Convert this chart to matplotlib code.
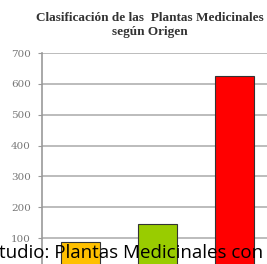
import matplotlib.pyplot as plt

# data
categorias = ['Nativas', 'Introducidas', 'Otras']
valores = [88, 145, 626]
colores = ['#FFC000', '#99CC00', '#FF0000']
ticks_y = [100, 200, 300, 400, 500, 600, 700]

fig = plt.figure(figsize=(2.67, 2.64), dpi=100)
ax = fig.add_axes([0.157, -0.019, 0.865, 0.818])

x = range(len(categorias))
ax.bar(x, valores, width=0.5, color=colores, edgecolor='#333333', linewidth=0.8, zorder=3)

ax.set_ylim(0, 700)
ax.set_xlim(-0.5, 2.5)
ax.set_yticks(ticks_y)
ax.set_yticklabels([str(t) for t in ticks_y], family='DejaVu Serif', fontsize=7.5, color='#777777')
ax.set_xticks([])
ax.yaxis.grid(True, color='#b0b0b0', linewidth=1.2, zorder=0)
ax.tick_params(axis='y', length=3, color='#999999', pad=5)
for s in ['top', 'right', 'bottom']:
    ax.spines[s].set_visible(False)
ax.spines['left'].set_color('#999999')
ax.spines['left'].set_linewidth(1.2)

fig.text(0.56, 0.905, 'Clasificación de las  Plantas Medicinales\nsegún Origen',
         ha='center', va='center', family='Liberation Serif', fontweight='bold',
         fontsize=9.5, color='#333333', linespacing=1.3)

# caption text overlapping the bottom of the chart
fig.text(-0.005, 0.04, 'tudio: Plantas Medicinales con', ha='left', va='center',
         family='Open Sans', fontsize=13.5, color='black')

fig.savefig('out.png', dpi=100)
